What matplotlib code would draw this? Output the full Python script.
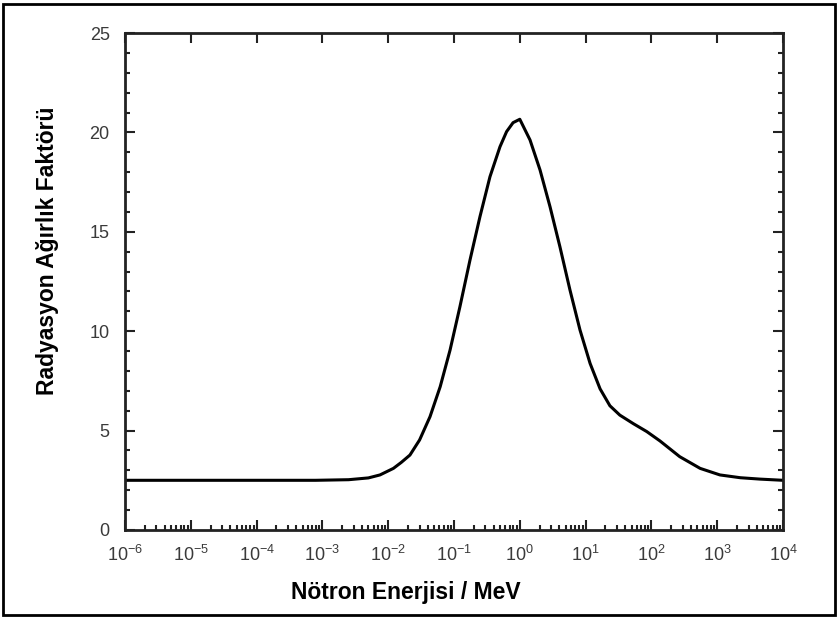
import matplotlib
matplotlib.use('Agg')
import matplotlib.pyplot as plt
import numpy as np
from matplotlib.ticker import LogLocator, MultipleLocator, NullFormatter
from matplotlib.patches import Rectangle

# neutron energy (MeV) and radiation weighting factor
energy = [1e-6, 7.9e-4, 2.5e-3, 5.0e-3, 7.5e-3, 0.012, 0.0158, 0.0214, 0.030,
          0.0432, 0.0617, 0.0871, 0.123, 0.175, 0.248, 0.352, 0.50, 0.63, 0.79,
          1.0, 1.43, 2.03, 2.88, 4.07, 5.79, 8.22, 11.7, 16.6, 23.4, 33.1, 53.1,
          85.1, 135, 269, 550, 1100, 2240, 4470, 1e4]
weight = [2.5, 2.5, 2.53, 2.62, 2.77, 3.10, 3.4, 3.77, 4.53,
          5.70, 7.21, 9.05, 11.23, 13.58, 15.76, 17.77, 19.28, 20.04, 20.49,
          20.66, 19.62, 18.11, 16.26, 14.25, 12.07, 10.06, 8.38, 7.1, 6.25, 5.78, 5.35,
          4.95, 4.48, 3.69, 3.10, 2.77, 2.63, 2.56, 2.5]

xlabel = 'Nötron Enerjisi / MeV'
ylabel = 'Radyasyon Ağırlık Faktörü'

plt.rcParams['font.family'] = ['Liberation Sans', 'DejaVu Sans']

fig = plt.figure(figsize=(8.38, 6.17), dpi=100)
ax = fig.add_axes([125/838, 1-530/617, (783-125)/838, (530-33)/617])

ax.plot(energy, weight, color='black', lw=2.2, solid_joinstyle='round')
ax.set_xscale('log')
ax.set_xlim(1e-6, 1e4)
ax.set_ylim(0, 25)

ax.xaxis.set_major_locator(LogLocator(base=10, numticks=20))
ax.xaxis.set_minor_locator(LogLocator(base=10, subs=np.arange(2, 10), numticks=20))
ax.xaxis.set_minor_formatter(NullFormatter())
ax.yaxis.set_major_locator(MultipleLocator(5))
ax.yaxis.set_minor_locator(MultipleLocator(1))

ax.tick_params(which='both', direction='in', colors='#222222', labelcolor='#3a3a3a', width=1.5)
ax.tick_params(which='major', length=7, labelsize=13, pad=11)
ax.tick_params(which='minor', length=3.5)
ax.tick_params(axis='y', which='both', right=True)
ax.tick_params(axis='x', which='major', top=True)
ax.tick_params(axis='x', which='minor', top=False)

for s in ax.spines.values():
    s.set_linewidth(2)
    s.set_color('#222222')

ax.set_xlabel(xlabel, fontsize=16.5, fontweight='bold')
ax.set_ylabel(ylabel, fontsize=16.5, fontweight='bold')
ax.xaxis.set_label_coords(0.427, -0.125)
ax.yaxis.set_label_coords(-0.1185, 0.561)
ax.xaxis.label.set_va('center')
ax.yaxis.label.set_va('center')

# outer frame around the whole picture
fig.patches.append(Rectangle((0.004, 0.004), 0.992, 0.99, transform=fig.transFigure,
                             fill=False, edgecolor='black', linewidth=2))

plt.savefig('out.png', dpi=100)
